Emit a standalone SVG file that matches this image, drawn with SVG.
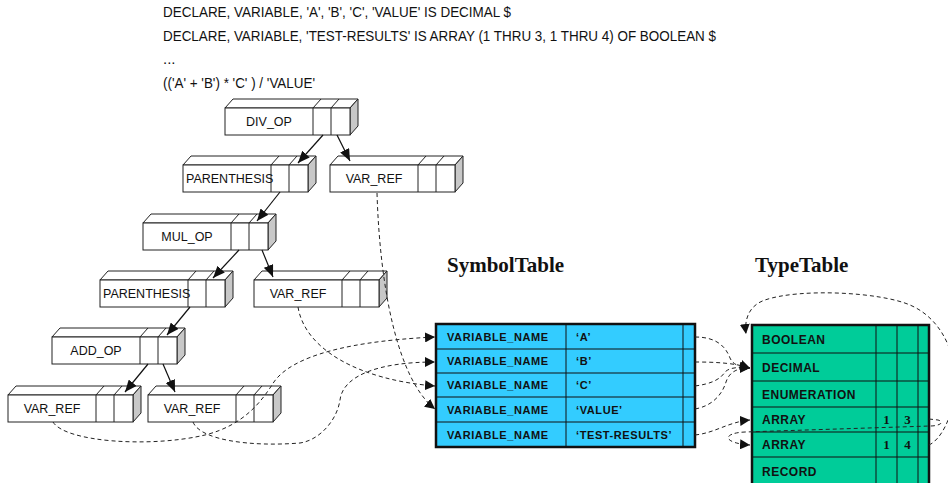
<svg xmlns="http://www.w3.org/2000/svg" xmlns:xlink="http://www.w3.org/1999/xlink" width="948" height="483" viewBox="0 0 948 483">
<style>
  .code { font-family: "Liberation Sans", Arial, sans-serif; font-size: 15px; fill: #111; }
  .lbl { font-family: "Liberation Sans", Arial, sans-serif; font-size: 12.5px; fill: #111; }
  .front { fill: #fff; stroke: #222; stroke-width: 1; }
  .topf { fill: #fff; stroke: #222; stroke-width: 1; }
  .side { fill: #c8c8c8; stroke: #222; stroke-width: 1; }
  .div { stroke: #222; stroke-width: 1; fill: none; }
  .head { font-family: "Liberation Serif", "Times New Roman", serif; font-size: 21px; font-weight: bold; fill: #111; }
  .tt { font-family: "Liberation Sans", Arial, sans-serif; font-size: 11px; font-weight: bold; letter-spacing: 0.6px; fill: #111; }
  .ty { font-family: "Liberation Sans", Arial, sans-serif; font-size: 12px; font-weight: bold; letter-spacing: 0.5px; fill: #111; }
  .num { font-family: "Liberation Serif", "Times New Roman", serif; font-size: 13px; font-weight: bold; fill: #111; text-anchor: middle; }
  .grid { stroke: #111; stroke-width: 1; fill: none; }
  .solid { stroke: #111; stroke-width: 1.2; fill: none; marker-end: url(#big); }
  .dash { stroke: #222; stroke-width: 1; fill: none; stroke-dasharray: 4 3; marker-end: url(#small); }
  .dashn { stroke: #222; stroke-width: 1; fill: none; stroke-dasharray: 4 3; }
</style>
<defs>
  <marker id="big" viewBox="0 0 12 10" refX="12" refY="5" markerWidth="12" markerHeight="10" markerUnits="userSpaceOnUse" orient="auto">
    <path d="M0,0 L12,5 L0,10 z" fill="#111"/>
  </marker>
  <marker id="small" viewBox="0 0 10 10" refX="10" refY="5" markerWidth="10" markerHeight="10" markerUnits="userSpaceOnUse" orient="auto">
    <path d="M0,0 L10,5 L0,10 z" fill="#111"/>
  </marker>
  <g id="box">
    <polygon class="topf" points="0,0 8,-9 133,-9 125,0"/>
    <polygon class="side" points="125,0 133,-9 133,18 125,27"/>
    <rect class="front" x="0" y="0" width="125" height="27"/>
    <line class="div" x1="88" y1="0" x2="88" y2="27"/>
    <line class="div" x1="106" y1="0" x2="106" y2="27"/>
    <line class="div" x1="88" y1="0" x2="96" y2="-9"/>
    <line class="div" x1="106" y1="0" x2="114" y2="-9"/>
  </g>
</defs>
<rect x="0" y="0" width="948" height="483" fill="#fff"/>

<g id="code">
  <text class="code" x="163" y="17" textLength="348" lengthAdjust="spacingAndGlyphs">DECLARE, VARIABLE, 'A', 'B', 'C', 'VALUE' IS DECIMAL $</text>
  <text class="code" x="163" y="41" textLength="553" lengthAdjust="spacingAndGlyphs">DECLARE, VARIABLE, 'TEST-RESULTS' IS ARRAY (1 THRU 3, 1 THRU 4) OF BOOLEAN $</text>
  <text class="code" x="163" y="64">...</text>
  <text class="code" x="163" y="88" textLength="152" lengthAdjust="spacingAndGlyphs">(('A' + 'B') * 'C' ) / 'VALUE'</text>
</g>

<g id="div_op"><use xlink:href="#box" x="225" y="108"/><text class="lbl" x="269" y="126" text-anchor="middle">DIV_OP</text></g>
<g id="parenthesis1"><use xlink:href="#box" x="183" y="165"/><text class="lbl" x="186" y="183">PARENTHESIS</text></g>
<g id="var_ref1"><use xlink:href="#box" x="330" y="165"/><text class="lbl" x="374" y="183" text-anchor="middle">VAR_REF</text></g>
<g id="mul_op"><use xlink:href="#box" x="143" y="223"/><text class="lbl" x="187" y="241" text-anchor="middle">MUL_OP</text></g>
<g id="parenthesis2"><use xlink:href="#box" x="100" y="280"/><text class="lbl" x="103" y="298">PARENTHESIS</text></g>
<g id="var_ref2"><use xlink:href="#box" x="254" y="280"/><text class="lbl" x="298" y="298" text-anchor="middle">VAR_REF</text></g>
<g id="add_op"><use xlink:href="#box" x="52" y="337"/><text class="lbl" x="96" y="355" text-anchor="middle">ADD_OP</text></g>
<g id="var_ref3"><use xlink:href="#box" x="8" y="395"/><text class="lbl" x="52" y="413" text-anchor="middle">VAR_REF</text></g>
<g id="var_ref4"><use xlink:href="#box" x="148" y="395"/><text class="lbl" x="192" y="413" text-anchor="middle">VAR_REF</text></g>

<g id="symboltable">
  <text class="head" x="447" y="272">SymbolTable</text>
  <rect x="436" y="324" width="259" height="123" fill="#33ccff" stroke="#111" stroke-width="2.5"/>
  <line class="grid" x1="436" y1="349" x2="695" y2="349"/>
  <line class="grid" x1="436" y1="373" x2="695" y2="373"/>
  <line class="grid" x1="436" y1="397" x2="695" y2="397"/>
  <line class="grid" x1="436" y1="422" x2="695" y2="422"/>
  <line class="grid" x1="566" y1="324" x2="566" y2="447"/>
  <line class="grid" x1="683" y1="324" x2="683" y2="447"/>
  <text class="tt" x="447" y="340.5">VARIABLE_NAME</text>
  <text class="tt" x="447" y="365">VARIABLE_NAME</text>
  <text class="tt" x="447" y="389">VARIABLE_NAME</text>
  <text class="tt" x="447" y="413.5">VARIABLE_NAME</text>
  <text class="tt" x="447" y="438.5">VARIABLE_NAME</text>
  <text class="tt" x="576" y="340.5">‘A’</text>
  <text class="tt" x="576" y="365">‘B’</text>
  <text class="tt" x="576" y="389">‘C’</text>
  <text class="tt" x="576" y="413.5">‘VALUE’</text>
  <text class="tt" x="576" y="438.5">‘TEST-RESULTS’</text>
</g>

<g id="typetable">
  <text class="head" x="755" y="272">TypeTable</text>
  <rect x="752" y="325" width="177" height="170" fill="#00cc99" stroke="#111" stroke-width="2.5"/>
  <line class="grid" x1="752" y1="353" x2="929" y2="353"/>
  <line class="grid" x1="752" y1="381" x2="929" y2="381"/>
  <line class="grid" x1="752" y1="407" x2="929" y2="407"/>
  <line class="grid" x1="752" y1="432" x2="929" y2="432"/>
  <line class="grid" x1="752" y1="457" x2="929" y2="457"/>
  <line class="grid" x1="876" y1="325" x2="876" y2="495"/>
  <line class="grid" x1="897" y1="325" x2="897" y2="495"/>
  <line class="grid" x1="918" y1="325" x2="918" y2="495"/>
  <text class="ty" x="762" y="343.5">BOOLEAN</text>
  <text class="ty" x="762" y="372">DECIMAL</text>
  <text class="ty" x="762" y="399">ENUMERATION</text>
  <text class="ty" x="762" y="424">ARRAY</text>
  <text class="ty" x="762" y="449">ARRAY</text>
  <text class="ty" x="762" y="476">RECORD</text>
  <text class="num" x="886.5" y="424">1</text>
  <text class="num" x="907.5" y="424">3</text>
  <text class="num" x="886.5" y="449">1</text>
  <text class="num" x="907.5" y="449">4</text>
</g>

<g id="connectors">
  <path class="solid" d="M323,135 L298,163"/>
  <path class="solid" d="M337,135 L350,161"/>
  <path class="solid" d="M280,192 L257,221"/>
  <path class="solid" d="M239,250 L213,278"/>
  <path class="solid" d="M262,250 L273,277"/>
  <path class="solid" d="M190,307 L167,335"/>
  <path class="solid" d="M148,364 L125,392"/>
  <path class="solid" d="M163,364 L175,392"/>

  <path class="dash" d="M377,193 C380,290 398,380 435,409"/>
  <path class="dash" d="M298,307 C305,350 360,380 435,386"/>
  <path class="dash" d="M53,422 C65,442 150,448 205,435 C245,425 262,400 272,385 C285,362 330,342 435,337"/>
  <path class="dash" d="M193,422 C200,440 250,447 300,443 C320,440 337,420 340,400 C343,375 380,362 435,362"/>

  <path class="dash" d="M695,337 C715,337 725,345 730,358 C733,365 740,367 750,368"/>
  <path class="dash" d="M695,362 C715,362 735,363 750,368"/>
  <path class="dash" d="M695,386 C710,384 720,380 725,372 C730,367 740,367 750,368"/>
  <path class="dash" d="M695,409 C712,406 722,395 726,382 C730,370 740,368 750,368"/>
  <path class="dash" d="M695,435 C715,433 728,422 750,420"/>
  <path class="dash" d="M929,419 L938,420 C945,422 940,426 930,426 L745,432 C722,433 722,443 750,445"/>
  <path class="dash" d="M929,445 C940,440 952,420 955,390 C958,360 945,320 910,305 C880,292 800,288 765,300 C750,305 744,318 746,334"/>
</g>
</svg>
